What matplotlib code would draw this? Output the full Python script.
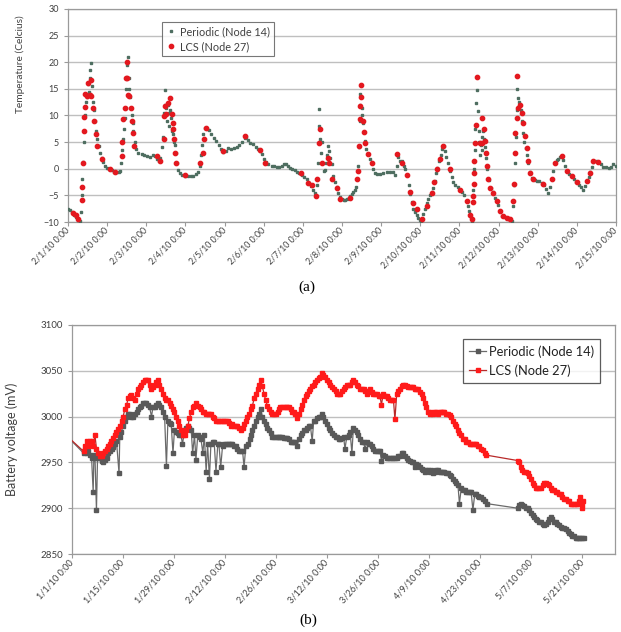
import matplotlib
matplotlib.use('Agg')
import matplotlib.pyplot as plt

plt.rcParams['font.family'] = ['Lato', 'DejaVu Sans']

# ---------------- (a) temperature, days since 2/1/10 ----------------
temp_ticks = ['2/1/10 0:00', '2/2/10 0:00', '2/3/10 0:00', '2/4/10 0:00', '2/5/10 0:00',
              '2/6/10 0:00', '2/7/10 0:00', '2/8/10 0:00', '2/9/10 0:00', '2/10/10 0:00',
              '2/11/10 0:00', '2/12/10 0:00', '2/13/10 0:00', '2/14/10 0:00', '2/15/10 0:00']

periodic_day = [
    0.00, 0.05, 0.10, 0.15, 0.20, 0.25, 0.30, 0.34, 0.355, 0.37, 0.385, 0.40, 0.41, 0.43, 0.45,
    0.47, 0.49, 0.51, 0.53, 0.55, 0.57, 0.59, 0.61, 0.63, 0.66, 0.69, 0.72, 0.75, 0.78, 0.82,
    0.86, 0.90, 0.95, 1.00, 1.06, 1.12, 1.18, 1.24, 1.30, 1.34, 1.36, 1.38, 1.40, 1.42, 1.45,
    1.47, 1.49, 1.50, 1.51, 1.53, 1.55, 1.57, 1.59, 1.61, 1.63, 1.65, 1.67, 1.71, 1.75, 1.80,
    1.88, 1.95, 2.02, 2.10, 2.17, 2.22, 2.27, 2.32, 2.36, 2.40, 2.43, 2.45, 2.47, 2.49, 2.51,
    2.53, 2.55, 2.57, 2.59, 2.61, 2.63, 2.65, 2.67, 2.69, 2.71, 2.73, 2.75, 2.78, 2.82, 2.86,
    2.92, 2.99, 3.06, 3.13, 3.20, 3.27, 3.33, 3.36, 3.40, 3.43, 3.46, 3.50, 3.55, 3.60, 3.66,
    3.72, 3.78, 3.85, 3.92, 3.97, 4.03, 4.10, 4.17, 4.24, 4.31, 4.38, 4.45, 4.51, 4.56, 4.60,
    4.66, 4.73, 4.80, 4.86, 4.90, 4.95, 5.00, 5.06, 5.12, 5.20, 5.27, 5.33, 5.40, 5.46, 5.51,
    5.56, 5.62, 5.67, 5.73, 5.79, 5.84, 5.90, 5.97, 6.03, 6.10, 6.15, 6.20, 6.25, 6.30, 6.34,
    6.37, 6.39, 6.41, 6.42, 6.44, 6.46, 6.48, 6.50, 6.53, 6.56, 6.59, 6.62, 6.65, 6.67, 6.70,
    6.74, 6.78, 6.82, 6.87, 6.91, 6.95, 7.00, 7.04, 7.08, 7.12, 7.17, 7.21, 7.25, 7.29, 7.33,
    7.36, 7.39, 7.41, 7.43, 7.45, 7.46, 7.47, 7.48, 7.50, 7.52, 7.53, 7.55, 7.58, 7.62, 7.67,
    7.72, 7.76, 7.80, 7.84, 7.90, 7.97, 8.05, 8.14, 8.22, 8.31, 8.36, 8.40, 8.44, 8.48, 8.53,
    8.58, 8.61, 8.65, 8.70, 8.74, 8.78, 8.82, 8.87, 8.91, 8.95, 8.99, 9.03, 9.08, 9.12, 9.16,
    9.21, 9.25, 9.29, 9.33, 9.37, 9.41, 9.44, 9.48, 9.52, 9.56, 9.60, 9.63, 9.67, 9.71, 9.76,
    9.80, 9.84, 9.90, 9.97, 10.02, 10.06, 10.12, 10.19, 10.22, 10.25, 10.28, 10.31, 10.33, 10.35, 10.37,
    10.39, 10.41, 10.43, 10.45, 10.47, 10.49, 10.51, 10.53, 10.55, 10.57, 10.59, 10.61, 10.63, 10.65, 10.68,
    10.71, 10.75, 10.80, 10.86, 10.92, 10.98, 11.04, 11.10, 11.17, 11.24, 11.30, 11.35, 11.38, 11.40, 11.42,
    11.44, 11.46, 11.47, 11.49, 11.51, 11.54, 11.57, 11.60, 11.63, 11.66, 11.69, 11.72, 11.76, 11.80, 11.86,
    11.92, 11.98, 12.04, 12.10, 12.16, 12.22, 12.27, 12.31, 12.36, 12.40, 12.44, 12.49, 12.53, 12.58, 12.61,
    12.65, 12.70, 12.74, 12.80, 12.87, 12.93, 12.99, 13.05, 13.10, 13.15, 13.20, 13.25, 13.30, 13.34, 13.38,
    13.42, 13.48, 13.55, 13.61, 13.68, 13.74, 13.81, 13.87, 13.93, 13.99]
periodic_temp = [
    -7.5, -7.7, -8.1, -8.6, -9.1, -9.6, -9.9, -8.2, -5.0, -2.0, 1.2, 5.0, 7.0, 10.0, 12.5,
    14.0, 13.5, 16.0, 14.5, 17.0, 18.5, 19.8, 15.5, 12.5, 11.0, 9.0, 7.0, 5.5, 4.2, 3.0,
    2.0, 1.2, 0.6, 0.2, -0.1, -0.3, -0.6, -0.7, -0.7, -0.4, 1.0, 3.5, 5.5, 7.5, 9.5,
    11.5, 15.0, 17.0, 19.5, 21.0, 17.0, 15.0, 13.5, 11.5, 10.0, 8.5, 7.0, 5.0, 3.8, 3.0,
    2.7, 2.6, 2.4, 2.3, 2.6, 2.4, 1.9, 1.4, 2.0, 4.0, 6.0, 10.5, 12.0, 14.7, 11.5,
    9.0, 12.0, 10.5, 8.0, 11.0, 9.5, 7.0, 8.5, 6.5, 5.0, 4.5, 3.0, 1.0, -0.2, -0.8,
    -1.2, -1.4, -1.4, -1.3, -1.3, -1.0, -0.6, 0.5, 2.5, 4.5, 6.5, 7.6, 7.5, 7.2, 6.5,
    5.8, 5.2, 4.5, 3.8, 3.2, 3.4, 3.9, 3.8, 3.9, 4.0, 4.4, 5.0, 5.8, 6.0, 5.4,
    4.8, 4.6, 4.0, 3.7, 3.4, 2.8, 1.8, 1.2, 0.8, 0.6, 0.5, 0.4, 0.4, 0.5, 0.9,
    0.8, 0.5, 0.2, -0.1, -0.3, -0.6, -0.8, -1.1, -1.5, -2.0, -2.6, -3.3, -4.0, -4.6, -5.2,
    -3.0, 1.0, 8.1, 11.3, 5.5, 3.0, 5.0, 1.0, -0.5, -0.3, 1.0, 2.5, 4.2, 3.3, 2.0,
    0.8, -1.4, -2.5, -3.5, -4.5, -5.3, -5.7, -5.9, -5.9, -5.7, -5.5, -5.2, -4.8, -4.4, -3.9,
    -3.4, -2.0, 0.5, 4.0, 9.0, 12.0, 14.0, 15.8, 11.5, 10.0, 8.5, 6.9, 5.2, 3.8, 2.7,
    1.8, 1.0, 0.0, -0.8, -0.9, -0.9, -0.8, -0.7, -0.7, -0.6, -1.2, 0.5, 2.2, 1.5, 1.5,
    0.6, 0.0, -1.2, -3.0, -4.8, -6.2, -7.5, -8.2, -8.7, -9.2, -9.6, -9.9, -8.5, -7.5, -6.4,
    -5.6, -5.0, -4.3, -3.6, -2.3, -0.8, 0.2, 1.5, 2.6, 3.8, 4.3, 3.3, 2.2, 1.0, -0.4,
    -1.6, -2.4, -3.0, -3.5, -3.9, -4.3, -5.0, -6.0, -7.0, -8.0, -8.8, -9.5, -9.9, -4.0, 0.0,
    3.5, 7.5, 12.4, 14.8, 10.8, 7.0, 5.0, 2.5, 4.5, 6.0, 3.5, 7.0, 5.5, 4.0, 2.0,
    0.0, -2.2, -3.6, -4.3, -5.5, -6.8, -8.0, -8.8, -9.1, -9.3, -9.6, -9.9, -7.0, -3.0, 1.0,
    6.0, 11.0, 14.9, 13.3, 12.5, 12.0, 11.0, 9.0, 6.8, 5.0, 3.9, 2.5, 1.0, -0.7, -1.8,
    -2.2, -2.3, -2.3, -2.6, -3.1, -3.8, -4.5, -3.5, -2.0, -0.5, 1.0, 1.6, 1.8, 2.3, 2.4,
    1.6, 0.5, -0.4, -0.9, -1.4, -2.0, -2.5, -3.0, -3.5, -3.9, -3.2, -2.3, -1.5, -0.7, 0.3,
    1.3, 1.4, 1.2, 0.8, 0.4, 0.3, 0.2, 0.4, 0.8, 0.6]

lcs_day = [
    0.14, 0.20, 0.26, 0.35, 0.37, 0.39, 0.41, 0.42, 0.43, 0.44, 0.48, 0.52, 0.55, 0.58, 0.60,
    0.65, 0.67, 0.71, 0.75, 0.86, 1.07, 1.20, 1.37, 1.39, 1.41, 1.46, 1.48, 1.50, 1.52, 1.54,
    1.57, 1.60, 1.63, 1.65, 1.69, 2.27, 2.35, 2.44, 2.45, 2.48, 2.50, 2.56, 2.61, 2.65, 2.67,
    2.69, 2.72, 2.74, 2.76, 2.99, 3.37, 3.44, 3.48, 3.52, 3.97, 4.52, 4.90, 5.03, 5.95, 6.14,
    6.23, 6.34, 6.37, 6.42, 6.44, 6.48, 6.65, 6.68, 6.74, 6.86, 6.95, 7.21, 7.39, 7.42, 7.44,
    7.46, 7.47, 7.48, 7.49, 7.53, 7.55, 7.59, 7.67, 7.76, 8.40, 8.53, 8.65, 8.74, 8.82, 8.91,
    9.04, 9.16, 9.29, 9.35, 9.44, 9.50, 9.57, 9.76, 10.02, 10.19, 10.27, 10.31, 10.355, 10.36, 10.365,
    10.37, 10.38, 10.40, 10.42, 10.44, 10.53, 10.57, 10.58, 10.63, 10.65, 10.68, 10.70, 10.74, 10.78, 10.87,
    10.95, 11.04, 11.12, 11.21, 11.29, 11.38, 11.385, 11.42, 11.425, 11.46, 11.465, 11.50, 11.55, 11.59, 11.63,
    11.68, 11.72, 11.76, 11.80, 11.89, 12.14, 12.36, 12.44, 12.61, 12.74, 12.87, 12.995, 13.25, 13.34, 13.42,
    13.55]
lcs_temp = [
    -8.25, -8.75, -9.5, -5.9, -3.4, 1.1, 7.1, 9.7, 11.6, 14.1, 13.6, 16.1, 13.9, 16.75, 13.6,
    11.4, 8.9, 6.6, 4.25, 1.75, -0.1, -0.6, 2.4, 5.0, 9.4, 11.4, 17.0, 20.1, 17.0, 13.9,
    13.6, 11.4, 8.9, 6.75, 4.25, 2.4, 1.4, 5.5, 9.9, 11.75, 10.2, 12.4, 13.3, 10.2, 8.6,
    7.4, 5.5, 3.0, 1.1, -1.25, 1.1, 3.0, 5.5, 7.7, 3.3, 6.1, 3.5, 1.1, -0.75, -2.75,
    -3.1, -5.1, -2.0, 4.9, 7.4, 1.1, 2.1, 1.1, -2.0, -3.6, -5.6, -5.4, -2.0, -0.4, 4.25,
    9.25, 11.75, 13.5, 15.8, 8.9, 6.9, 4.9, 2.7, 1.1, 2.7, 1.1, -1.1, -4.4, -6.4, -7.6,
    -9.5, -7.0, -4.5, -2.5, -0.1, 1.9, 4.25, -0.1, -3.9, -6.1, -8.6, -9.5, -6.2, -5.1, -2.9,
    -0.75, 1.4, 4.9, 8.3, 17.2, 4.9, 4.9, 9.6, 7.4, 5.2, 3.0, 0.5, -2.0, -3.6, -4.5,
    -6.0, -8.0, -8.9, -9.2, -9.5, -6.1, -2.9, 3.0, 6.75, 9.6, 17.5, 11.4, 12.0, 10.5, 8.6,
    6.1, 3.9, 1.4, -0.75, -2.0, -2.9, -2.0, 1.1, 2.4, -0.4, -1.4, -2.5, -2.3, -0.75, 1.4,
    1.3]

# ---------------- (b) battery voltage, days since 1/1/10 ----------------
volt_tick_day = [0, 14, 28, 42, 56, 70, 84, 98, 112, 126, 140]
volt_ticks = ['1/1/10 0:00', '1/15/10 0:00', '1/29/10 0:00', '2/12/10 0:00', '2/26/10 0:00',
              '3/12/10 0:00', '3/26/10 0:00', '4/9/10 0:00', '4/23/10 0:00', '5/7/10 0:00',
              '5/21/10 0:00']

per_v_day = [
    -2.0, 3.2, 3.55, 4.0, 4.45, 4.9, 5.36, 5.8, 6.0, 6.3, 6.7, 7.0, 7.6, 8.1, 8.56,
    9.0, 9.5, 10.0, 10.4, 10.9, 11.3, 11.8, 12.2, 12.9, 13.1, 13.5, 14.0, 14.5, 14.9, 15.4,
    15.8, 16.3, 16.7, 17.2, 17.7, 18.1, 18.6, 19.0, 19.5, 20.0, 20.4, 20.8, 21.3, 21.8, 22.2,
    22.7, 23.1, 23.6, 24.0, 24.5, 24.9, 25.4, 25.9, 26.3, 26.8, 27.2, 27.7, 28.1, 28.6, 29.0,
    29.4, 29.9, 30.3, 30.9, 31.3, 31.8, 32.2, 32.7, 33.1, 33.6, 34.0, 34.5, 35.0, 35.4, 35.9,
    36.3, 36.8, 37.2, 37.7, 38.1, 38.6, 39.0, 39.5, 40.0, 40.3, 40.8, 41.3, 41.8, 42.2, 42.7,
    43.1, 43.6, 44.0, 44.5, 45.0, 45.4, 45.9, 46.3, 46.8, 47.2, 47.7, 48.2, 48.7, 49.1, 49.5,
    50.0, 50.4, 50.9, 51.3, 51.8, 52.2, 52.7, 53.1, 53.6, 54.0, 54.5, 55.0, 55.5, 55.9, 56.4,
    56.8, 57.2, 57.7, 58.1, 58.6, 59.0, 59.5, 60.0, 60.4, 60.9, 61.3, 61.8, 62.2, 62.7, 63.1,
    63.6, 64.1, 64.5, 65.0, 65.4, 65.9, 66.3, 66.8, 67.2, 67.7, 68.1, 68.6, 69.0, 69.5, 70.0,
    70.4, 70.9, 71.3, 71.8, 72.3, 72.7, 73.2, 73.6, 74.1, 74.5, 74.9, 75.4, 75.9, 76.3, 76.8,
    77.2, 77.7, 78.1, 78.6, 79.1, 79.5, 80.0, 80.4, 80.9, 81.4, 81.8, 82.3, 82.7, 83.2, 83.6,
    84.1, 84.5, 84.9, 85.4, 85.9, 86.3, 86.8, 87.2, 87.7, 88.2, 88.6, 89.1, 89.5, 90.0, 90.5,
    90.9, 91.4, 91.8, 92.3, 92.7, 93.2, 93.6, 94.1, 94.5, 95.0, 95.4, 95.9, 96.3, 96.8, 97.2,
    97.7, 98.2, 98.6, 99.1, 99.5, 100.0, 100.4, 100.9, 101.3, 101.8, 102.2, 102.7, 103.2, 103.6, 104.1,
    104.5, 105.0, 105.4, 105.9, 106.3, 106.8, 107.3, 107.7, 108.2, 108.6, 109.1, 109.5, 110.0, 110.5, 110.9,
    111.4, 111.8, 112.3, 112.7, 113.2, 113.8, 122.3, 122.7, 123.2, 123.6, 124.1, 124.5, 125.0, 125.5, 125.9,
    126.4, 126.8, 127.3, 127.7, 128.2, 128.6, 129.1, 129.5, 130.0, 130.5, 130.9, 131.4, 131.8, 132.3, 132.7,
    133.2, 133.6, 134.1, 134.5, 135.0, 135.5, 136.0, 136.4, 136.8, 137.3, 137.7, 138.2, 138.6, 139.1, 139.5,
    140.0, 140.4]
per_v_mv = [
    2981, 2960, 2963, 2960, 2962, 2958, 2955, 2918, 2958, 2955, 2898, 2955, 2955, 2952, 2950,
    2953, 2955, 2960, 2962, 2965, 2967, 2970, 2973, 2938, 2978, 2983, 2990, 2995, 3000, 3003,
    3003, 3000, 3000, 3003, 3005, 3008, 3010, 3012, 3015, 3015, 3015, 3013, 3010, 3000, 3010,
    3010, 3013, 3015, 3013, 3010, 3005, 3000, 2946, 2995, 2993, 2992, 2960, 2985, 2983, 2982,
    2980, 2980, 2970, 2985, 2988, 2990, 2988, 2985, 2960, 2980, 2953, 2980, 2978, 2975, 2960,
    2980, 2940, 2970, 2932, 2970, 2972, 2972, 2940, 2970, 2970, 2945, 2968, 2970, 2970, 2970,
    2970, 2970, 2970, 2968, 2968, 2965, 2962, 2962, 2962, 2945, 2968, 2970, 2975, 2980, 2985,
    2990, 2995, 3000, 3003, 3008, 3000, 2995, 2992, 2988, 2985, 2982, 2978, 2978, 2978, 2978,
    2978, 2978, 2978, 2977, 2977, 2977, 2975, 2972, 2972, 2972, 2972, 2968, 2975, 2980, 2982,
    2985, 2985, 2988, 2990, 2990, 2973, 2995, 2995, 2998, 3000, 3000, 3003, 3000, 2995, 2992,
    2988, 2985, 2982, 2980, 2978, 2978, 2975, 2975, 2977, 2978, 2965, 2978, 2980, 2983, 2960,
    2988, 2985, 2983, 2980, 2975, 2972, 2972, 2965, 2972, 2970, 2970, 2968, 2965, 2962, 2962,
    2962, 2962, 2952, 2958, 2957, 2955, 2955, 2955, 2955, 2955, 2955, 2955, 2957, 2957, 2960,
    2960, 2957, 2955, 2953, 2952, 2950, 2950, 2945, 2948, 2947, 2945, 2943, 2942, 2940, 2942,
    2942, 2940, 2942, 2938, 2940, 2942, 2942, 2940, 2940, 2940, 2940, 2938, 2938, 2936, 2935,
    2932, 2930, 2928, 2925, 2905, 2922, 2920, 2920, 2918, 2918, 2918, 2918, 2898, 2915, 2915,
    2913, 2912, 2912, 2910, 2908, 2905, 2900, 2903, 2905, 2903, 2902, 2900, 2900, 2898, 2895,
    2893, 2890, 2888, 2887, 2885, 2885, 2883, 2882, 2883, 2885, 2888, 2890, 2888, 2885, 2885,
    2883, 2882, 2880, 2878, 2878, 2877, 2875, 2873, 2872, 2870, 2870, 2868, 2867, 2867, 2868,
    2867, 2868]

lcs_v_day = [
    -2.0, 3.2, 3.55, 4.0, 4.45, 4.9, 5.36, 5.8, 6.28, 6.7, 7.19, 7.6, 8.1, 8.56, 9.0,
    9.5, 9.9, 10.4, 10.8, 11.3, 11.7, 12.2, 12.65, 13.1, 13.6, 14.0, 14.5, 15.0, 15.4, 15.8,
    16.3, 16.7, 17.2, 17.7, 18.1, 18.6, 19.0, 19.5, 19.9, 20.4, 20.8, 21.3, 21.7, 22.2, 22.7,
    23.1, 23.6, 24.0, 24.5, 24.9, 25.4, 25.9, 26.3, 26.8, 27.2, 27.7, 28.1, 28.6, 29.0, 29.4,
    29.9, 30.4, 30.9, 31.3, 31.8, 32.2, 32.7, 33.1, 33.6, 34.0, 34.5, 35.0, 35.4, 35.9, 36.3,
    36.8, 37.2, 37.7, 38.1, 38.6, 39.0, 39.5, 40.0, 40.4, 40.9, 41.3, 41.8, 42.2, 42.7, 43.1,
    43.6, 44.0, 44.5, 45.0, 45.4, 45.9, 46.3, 46.8, 47.2, 47.7, 48.1, 48.6, 49.1, 49.5, 50.0,
    50.4, 50.9, 51.3, 51.8, 52.2, 52.7, 53.1, 53.6, 54.0, 54.5, 55.0, 55.5, 55.9, 56.4, 56.8,
    57.2, 57.7, 58.1, 58.6, 59.0, 59.5, 60.0, 60.4, 60.9, 61.3, 61.8, 62.2, 62.7, 63.1, 63.6,
    64.1, 64.5, 65.0, 65.4, 65.9, 66.3, 66.8, 67.2, 67.7, 68.1, 68.6, 69.0, 69.5, 70.0, 70.4,
    70.9, 71.3, 71.8, 72.3, 72.7, 73.2, 73.6, 74.1, 74.5, 74.9, 75.4, 75.9, 76.3, 76.8, 77.2,
    77.7, 78.1, 78.6, 79.1, 79.5, 80.0, 80.4, 80.9, 81.4, 81.8, 82.3, 82.7, 83.2, 83.6, 84.1,
    84.5, 84.9, 85.4, 85.9, 86.3, 86.8, 87.2, 87.7, 88.2, 88.6, 89.1, 89.5, 90.0, 90.5, 90.9,
    91.4, 91.8, 92.3, 92.7, 93.2, 93.6, 94.1, 94.5, 95.0, 95.4, 95.9, 96.3, 96.8, 97.2, 97.7,
    98.2, 98.6, 99.1, 99.5, 100.0, 100.4, 100.9, 101.3, 101.8, 102.2, 102.7, 103.2, 103.6, 104.1, 104.5,
    105.0, 105.4, 105.9, 106.3, 106.8, 107.3, 107.7, 108.2, 108.6, 109.1, 109.5, 110.0, 110.5, 110.9, 111.4,
    111.8, 112.3, 112.7, 113.2, 113.6, 122.3, 122.7, 123.2, 123.6, 124.1, 124.5, 125.0, 125.5, 125.9, 126.4,
    126.8, 127.3, 127.7, 128.2, 128.6, 129.1, 129.5, 130.0, 130.5, 130.9, 131.4, 131.8, 132.3, 132.7, 133.2,
    133.6, 134.1, 134.5, 135.0, 135.5, 136.0, 136.4, 136.8, 137.3, 137.7, 138.2, 138.6, 139.1, 139.5, 139.8,
    140.0, 140.3]
lcs_v_mv = [
    2981, 2962, 2968, 2973, 2968, 2973, 2973, 2968, 2980, 2965, 2960, 2957, 2957, 2960, 2962,
    2965, 2968, 2970, 2973, 2977, 2980, 2983, 2986, 2990, 2995, 3000, 3008, 3013, 3020, 3022,
    3024, 3020, 3018, 3025, 3030, 3032, 3035, 3038, 3040, 3040, 3040, 3035, 3030, 3032, 3035,
    3038, 3040, 3035, 3030, 3025, 3020, 3018, 3018, 3015, 3012, 3008, 3005, 3000, 2995, 2990,
    2985, 2980, 2980, 2985, 2990, 2998, 3005, 3010, 3012, 3015, 3012, 3010, 3008, 3005, 3005,
    3003, 3003, 3003, 3003, 3000, 2998, 2995, 2995, 2995, 2995, 2995, 2995, 2995, 2995, 2993,
    2990, 2992, 2990, 2990, 2990, 2988, 2985, 2988, 2992, 2995, 3000, 3003, 3008, 3012, 3020,
    3025, 3030, 3035, 3040, 3033, 3025, 3018, 3012, 3008, 3005, 3003, 3003, 3003, 3005, 3008,
    3010, 3010, 3010, 3010, 3010, 3010, 3008, 3005, 3005, 3003, 2998, 3003, 3008, 3013, 3018,
    3022, 3025, 3028, 3030, 3033, 3035, 3038, 3040, 3042, 3043, 3048, 3045, 3043, 3040, 3038,
    3035, 3032, 3030, 3028, 3025, 3025, 3025, 3028, 3030, 3032, 3035, 3035, 3035, 3038, 3040,
    3038, 3035, 3033, 3030, 3030, 3030, 3028, 3025, 3028, 3030, 3027, 3025, 3025, 3025, 3023,
    3022, 3013, 3025, 3023, 3022, 3020, 3018, 3018, 3018, 2997, 3025, 3028, 3030, 3033, 3035,
    3035, 3033, 3032, 3032, 3032, 3032, 3030, 3030, 3030, 3027, 3025, 3020, 3015, 3010, 3005,
    3003, 3005, 3003, 3005, 3005, 3003, 3005, 3005, 3005, 3005, 3003, 3003, 3002, 3000, 2995,
    2992, 2990, 2985, 2982, 2980, 2976, 2975, 2972, 2972, 2970, 2970, 2970, 2970, 2970, 2968,
    2968, 2965, 2963, 2960, 2958, 2952, 2950, 2945, 2942, 2940, 2940, 2938, 2935, 2932, 2928,
    2925, 2922, 2922, 2922, 2922, 2925, 2928, 2928, 2926, 2925, 2922, 2920, 2920, 2918, 2918,
    2915, 2915, 2912, 2910, 2910, 2908, 2908, 2905, 2905, 2905, 2905, 2905, 2908, 2912, 2905,
    2900, 2908]

grid_col = '#bfbfbf'
frame_col = '#9a9a9a'
text_col = '#404040'

fig = plt.figure(figsize=(6.21, 6.32), dpi=100)

# ---- panel (a)
ax1 = fig.add_axes([0.1095, 0.6487, 0.8824, 0.3371])
ax1.plot(periodic_day, periodic_temp, ls='none', marker='s', ms=1.9, color='#4e6e60',
         label='Periodic (Node 14)', zorder=3)
ax1.plot(lcs_day, lcs_temp, ls='none', marker='o', ms=3.1, color='#e3181f',
         label='LCS (Node 27)', zorder=4)
ax1.set_xlim(0, 14)
ax1.set_ylim(-10, 30)
ax1.set_yticks(range(-10, 31, 5))
ax1.set_xticks(range(15))
ax1.set_xticklabels(temp_ticks, rotation=45, ha='right', va='center', rotation_mode='anchor')
ax1.grid(axis='y', color=grid_col, lw=1.0)
ax1.set_axisbelow(True)
ax1.tick_params(axis='both', labelsize=6.5, colors=text_col, length=3, width=0.8, color=frame_col)
ax1.tick_params(axis='x', labelsize=6.3, pad=2)
ax1.set_ylabel('Temperature (Celcius)', fontsize=7.3, color=text_col)
ax1.yaxis.set_label_coords(-0.078, 0.74)
for s in ax1.spines.values():
    s.set_color(frame_col)
    s.set_linewidth(0.9)
leg1 = ax1.legend(loc='upper left', bbox_to_anchor=(0.162, 0.965), fontsize=7.8,
                  frameon=True, fancybox=False, edgecolor='#555555', handlelength=0.8,
                  handletextpad=0.4, borderpad=0.4, labelspacing=0.35, markerscale=1.0)
leg1.get_frame().set_linewidth(0.8)
for t in leg1.get_texts():
    t.set_color(text_col)

# ---- panel (b)
ax2 = fig.add_axes([0.116, 0.1234, 0.8744, 0.3624])
ax2.plot(per_v_day, per_v_mv, color='#6a6a6a', lw=0.9, marker='s', ms=2.8,
         mfc='#595959', mec='#595959', label='Periodic (Node 14)', zorder=3)
ax2.plot(lcs_v_day, lcs_v_mv, color='#b82a2a', lw=0.9, marker='s', ms=3.0,
         mfc='#ff1a1a', mec='#ff1a1a', label='LCS (Node 27)', zorder=4)
ax2.set_xlim(0, 149)
ax2.set_ylim(2850, 3100)
ax2.set_yticks(range(2850, 3101, 50))
ax2.set_xticks(volt_tick_day)
ax2.set_xticklabels(volt_ticks, rotation=48, ha='right', va='center', rotation_mode='anchor')
ax2.grid(axis='y', color=grid_col, lw=1.0)
ax2.set_axisbelow(True)
ax2.tick_params(axis='both', labelsize=7, colors=text_col, length=3, width=0.8, color=frame_col)
ax2.tick_params(axis='x', labelsize=6.6, pad=2)
ax2.set_ylabel('Battery voltage (mV)', fontsize=9, color=text_col)
ax2.yaxis.set_label_coords(-0.1, 0.5)
for s in ax2.spines.values():
    s.set_color(frame_col)
    s.set_linewidth(0.9)
leg2 = ax2.legend(loc='upper left', bbox_to_anchor=(0.709, 0.965), fontsize=9.3,
                  frameon=True, fancybox=False, edgecolor='#333333', handlelength=1.3,
                  handletextpad=0.2, borderpad=0.45, labelspacing=0.5)
leg2.get_frame().set_linewidth(0.9)
for t in leg2.get_texts():
    t.set_color('#222222')

fig.text(0.494, 0.545, '(a)', ha='center', va='center', fontsize=11, family='Liberation Serif')
fig.text(0.497, 0.019, '(b)', ha='center', va='center', fontsize=11, family='Liberation Serif')

fig.savefig('out.png', dpi=100)
